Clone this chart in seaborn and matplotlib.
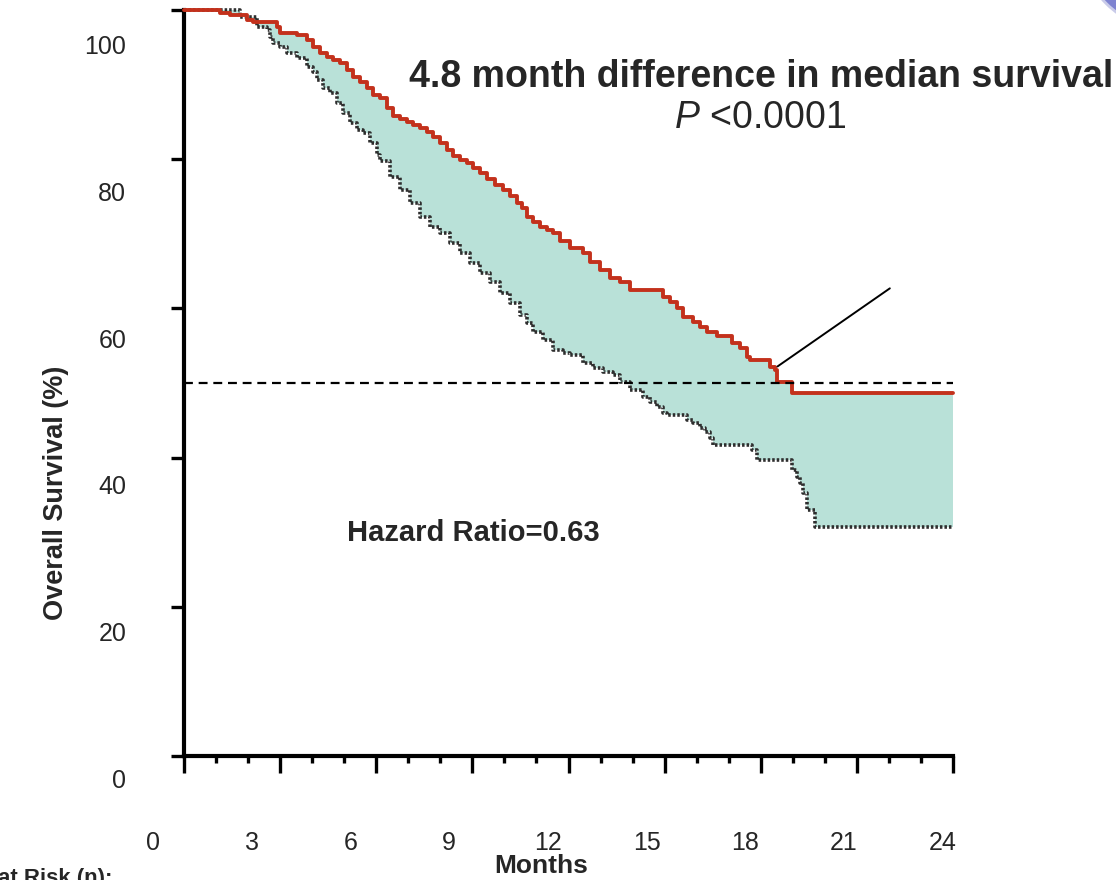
import numpy as np
import pandas as pd
import matplotlib
matplotlib.use("Agg")
import matplotlib.pyplot as plt
import matplotlib.transforms as mtransforms
from matplotlib.patches import Ellipse
import seaborn as sns

# ---------------- data ----------------
red_t = [0, 1.12, 1.44, 1.97, 2.15, 2.90, 3.00, 3.53, 3.84, 4.03, 4.25, 4.46, 4.65, 4.87,
         5.09, 5.27, 5.49, 5.71, 5.90, 6.12, 6.34, 6.52, 6.74, 6.96, 7.15, 7.37, 7.58,
         7.77, 7.99, 8.21, 8.40, 8.61, 8.83, 9.02, 9.24, 9.46, 9.71, 9.96, 10.17, 10.39,
         10.55, 10.71, 10.89, 11.11, 11.33, 11.52, 11.74, 12.05, 12.45, 12.67, 12.98,
         13.30, 13.61, 13.92, 14.95, 15.17, 15.39, 15.57, 15.89, 16.10, 16.32, 16.64,
         17.10, 17.35, 17.57, 17.67, 18.29, 18.45, 18.51, 18.98, 24.0]
red_s = [100, 99.6, 99.3, 98.7, 98.4, 97.7, 96.9, 96.6, 96.0, 95.0, 94.3, 93.7, 93.3, 92.9,
         92.0, 91.0, 90.3, 89.5, 88.6, 88.2, 86.9, 85.8, 85.4, 85.0, 84.6, 84.2, 83.6,
         83.0, 82.2, 81.2, 80.4, 79.9, 79.5, 78.8, 78.2, 77.3, 76.5, 75.9, 75.1, 74.1,
         73.4, 72.2, 71.6, 70.9, 70.5, 70.1, 69.0, 68.1, 67.4, 66.2, 65.1,
         64.1, 63.5, 62.5, 61.5, 60.9, 60.1, 58.8, 58.2, 57.5, 56.8, 56.3,
         55.4, 54.7, 53.5, 53.1, 52.1, 51.7, 50.1, 48.7, 48.7]

blk_t = [0, 1.75, 2.28, 2.59, 2.68, 2.78, 3.00, 3.21, 3.53, 3.84, 4.03, 4.15, 4.34, 4.56,
         4.78, 4.96, 5.18, 5.40, 5.59, 5.81, 6.02, 6.12, 6.43, 6.74, 7.05, 7.37, 7.68,
         7.99, 8.30, 8.61, 8.93, 9.24, 9.55, 9.86, 10.17, 10.49, 10.71, 10.89, 11.20,
         11.52, 11.83, 12.05, 12.45, 12.77, 13.08, 13.39, 13.61, 13.92, 14.33, 14.54,
         14.76, 14.95, 15.07, 15.70, 15.89, 16.10, 16.26, 16.42, 16.51, 17.73, 17.88,
         18.98, 19.13, 19.23, 19.32, 19.44, 19.69, 24.0]
blk_s = [100, 99.1, 97.7, 97.3, 96.4, 95.6, 95.0, 94.2, 93.6, 92.4, 91.7, 90.6, 89.5, 88.9,
         87.5, 86.2, 84.9, 83.9, 83.5, 82.2, 80.6, 79.8, 77.6, 75.9, 74.1, 72.3, 70.9,
         70.1, 68.8, 67.4, 66.1, 64.7, 63.5, 62.1, 60.7, 59.1, 58.0, 56.8, 55.8,
         54.4, 54.0, 53.8, 52.7, 52.0, 51.5, 51.1, 50.1, 49.1, 48.1, 47.5,
         46.8, 46.0, 45.7, 45.0, 44.6, 44.0, 43.4, 42.6, 41.7, 41.0, 39.7,
         38.3, 37.4, 36.6, 35.3, 33.0, 30.7, 30.7]

median_level = 50
x_ticks = [0, 3, 6, 9, 12, 15, 18, 21, 24]
x_ticklabels = ["0", "3", "6", "9", "12", "15", "18", "21", "24"]
y_ticks = [0, 20, 40, 60, 80, 100]
y_ticklabels = ["0", "20", "40", "60", "80", "100"]
pointer_from = (18.45, 52.0)
pointer_to = (22.1, 62.9)

title_text = "4.8 month difference in median survival"
p_text = r"$\mathit{P}$ <0.0001"
hr_text = "Hazard Ratio=0.63"

RED = "#c3311c"
FILL = "#b9e1d8"
DOT = "#2e2e2e"

# ---------------- style ----------------
sns.set_style("white")
plt.rcParams["font.family"] = ["Liberation Sans", "DejaVu Sans"]
plt.rcParams["mathtext.fontset"] = "custom"
plt.rcParams["mathtext.rm"] = "Liberation Sans"
plt.rcParams["mathtext.it"] = "Liberation Sans:italic"
plt.rcParams["mathtext.bf"] = "Liberation Sans:bold"

W, H = 1116, 880
fig = plt.figure(figsize=(W / 100, H / 100), dpi=100)
ax_l, ax_r, ax_t, ax_b = 184, 953, 10, 756
ax = fig.add_axes([ax_l / W, 1 - ax_b / H, (ax_r - ax_l) / W, (ax_b - ax_t) / H])

# step-function evaluation on a shared grid for the shaded band
t_all = np.unique(np.concatenate([red_t, blk_t]))
def step_at(ts, ss, grid):
    idx = np.searchsorted(ts, grid, side="right") - 1
    return np.asarray(ss)[idx]
red_on = step_at(np.array(red_t), red_s, t_all)
blk_on = step_at(np.array(blk_t), blk_s, t_all)
ax.fill_between(t_all, blk_on, red_on, step="post", color=FILL, lw=0, zorder=1)

df_red = pd.DataFrame({"Months": red_t, "Survival": red_s})
df_blk = pd.DataFrame({"Months": blk_t, "Survival": blk_s})
sns.lineplot(data=df_blk, x="Months", y="Survival", ax=ax, drawstyle="steps-post",
             color=DOT, lw=2.6, linestyle=(0, (0.7, 0.55)), zorder=3, clip_on=False)
sns.lineplot(data=df_red, x="Months", y="Survival", ax=ax, drawstyle="steps-post",
             color=RED, lw=2.8, zorder=4, clip_on=False)

ax.axhline(median_level, xmin=0, xmax=1, color="black", lw=1.6,
           linestyle=(0, (4, 2.6)), zorder=5)
ax.annotate("", xy=pointer_from, xytext=pointer_to,
            arrowprops=dict(arrowstyle="-", color="black", lw=1.4), zorder=6)

ax.set_xlim(0, 24)
ax.set_ylim(0, 100)
sns.despine(ax=ax)
for s in ("left", "bottom"):
    ax.spines[s].set_linewidth(3)
    ax.spines[s].set_color("black")

ax.set_xticks(x_ticks)
ax.set_xticklabels(x_ticklabels)
ax.set_xticks(np.arange(0, 25, 1), minor=True)
ax.set_yticks(y_ticks)
ax.set_yticklabels(y_ticklabels)
ax.tick_params(axis="x", which="major", direction="out", length=12, width=2.4,
               color="black", labelsize=18, pad=42, bottom=True)
ax.tick_params(axis="x", which="minor", direction="out", length=5, width=2.4,
               color="black", bottom=True)
ax.tick_params(axis="y", which="major", direction="out", length=9.5, width=2.4,
               color="black", labelsize=18, pad=32, left=True)
ax.tick_params(axis="y", which="minor", left=False)

# shift tick labels as in the reference slide
for k, lab in enumerate(ax.get_xticklabels()):
    dx = (-31 + 2.6 * k) / 100
    lab.set_transform(lab.get_transform() +
                      mtransforms.ScaledTranslation(dx, 0, fig.dpi_scale_trans))
for v, lab in zip(y_ticks, ax.get_yticklabels()):
    dy = -(22 + 0.13 * v) / 100
    lab.set_transform(lab.get_transform() +
                      mtransforms.ScaledTranslation(0, dy, fig.dpi_scale_trans))

ax.set_xlabel("Months", fontsize=19, fontweight="bold")
ax.xaxis.set_label_coords((541 - ax_l) / (ax_r - ax_l), (ax_b - 866) / (ax_b - ax_t))
ax.xaxis.label.set_va("center")
ax.set_ylabel("Overall Survival (%)", fontsize=19.5, fontweight="bold")
ax.yaxis.set_label_coords((56 - ax_l) / (ax_r - ax_l), (ax_b - 493) / (ax_b - ax_t))
ax.yaxis.label.set_va("center")

fig.text(761 / W, 1 - 77 / H, title_text, fontsize=27, fontweight="bold",
         ha="center", va="center")
fig.text(760 / W, 1 - 118 / H, p_text, fontsize=27, ha="center", va="center")
fig.text(473 / W, 1 - 533 / H, hr_text, fontsize=21, fontweight="bold",
         ha="center", va="center")
fig.text(-2 / W, 1 - 884 / H, "at Risk (n):", fontsize=16, fontweight="bold",
         ha="left", va="baseline")

# decorative slide corner
fig.patches.append(Ellipse((1170 / W, 1 + 60 / H), 180 / W, 180 / H,
                           transform=fig.transFigure, facecolor="#7d82d0",
                           edgecolor="#c9cbe9", lw=2, zorder=0))

fig.savefig("out.png", dpi=100)
